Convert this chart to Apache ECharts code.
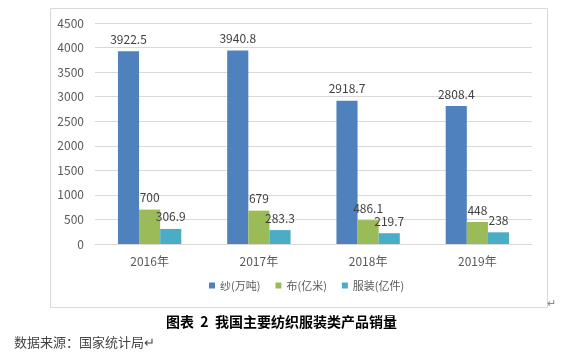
<!DOCTYPE html>
<html><head><meta charset="utf-8">
<script src="https://cdn.jsdelivr.net/npm/echarts@6/dist/echarts.min.js"></script>
<style>html,body{margin:0;padding:0;background:#fff}#c{width:586px;height:359px}</style>
</head><body><div id="c"></div>
<script>
const categories = ['2016年','2017年','2018年','2019年'];
const seriesNames = ['纱(万吨)','布(亿米)','服装(亿件)'];
const yarn = [3922.5, 3940.8, 2918.7, 2808.4];
const cloth = [700, 679, 486.1, 448];
const garment = [306.9, 283.3, 219.7, 238];
const yTicks = [0, 500, 1000, 1500, 2000, 2500, 3000, 3500, 4000, 4500];
const colors = ['#4F81BD', '#9BBB59', '#4BACC6'];
const captionText = '图表  2  我国主要纺织服装类产品销量';
const sourceText = '数据来源：国家统计局';

const font = '"Noto Sans CJK SC", "Open Sans", sans-serif';
const labelStyle = {show: true, position: 'top', color: '#404040', fontSize: 12, fontFamily: font, distance: 6};
const chart = echarts.init(document.getElementById('c'), null, {renderer: 'canvas'});
const data = [yarn, cloth, garment];
chart.setOption({
  animation: false,
  grid: {left: 95, right: 54, top: 23, bottom: 115, containLabel: false},
  legend: {
    data: seriesNames, bottom: 63, left: 204, itemWidth: 6, itemHeight: 6, itemGap: 15,
    icon: 'rect', textStyle: {color: '#595959', fontSize: 11, fontFamily: font}
  },
  xAxis: {
    type: 'category', data: categories,
    axisLine: {lineStyle: {color: '#d9d9d9'}}, axisTick: {show: false},
    axisLabel: {color: '#595959', fontSize: 12, fontFamily: font, margin: 11}
  },
  yAxis: {
    type: 'value', min: yTicks[0], max: yTicks[yTicks.length-1], interval: 500,
    axisLine: {show: false}, axisTick: {show: false},
    splitLine: {lineStyle: {color: '#d9d9d9'}},
    axisLabel: {color: '#595959', fontSize: 12, fontFamily: font, margin: 11, formatter: v => String(v)}
  },
  series: seriesNames.map((n, i) => ({
    name: n, type: 'bar', data: data[i], barGap: '0%', barCategoryGap: '42%',
    itemStyle: {color: colors[i]}, label: labelStyle
  })),
  graphic: [
    {type: 'rect', shape: {x: 50.5, y: 8.5, width: 497, height: 299}, style: {fill: 'none', stroke: '#d9d9d9', lineWidth: 1}, silent: true},
    {type: 'text', x: 547, y: 297, style: {text: '↵', fill: '#888', fontSize: 11, fontFamily: font}},
    {type: 'text', x: 166, y: 315, style: {text: captionText, fill: '#000', fontSize: 14, fontWeight: 'bold', fontFamily: '"Noto Sans CJK SC", sans-serif'}},
    {type: 'text', x: 14, y: 336, style: {text: sourceText + '↵', fill: '#444', fontSize: 13, fontFamily: font}}
  ]
});
</script></body></html>
